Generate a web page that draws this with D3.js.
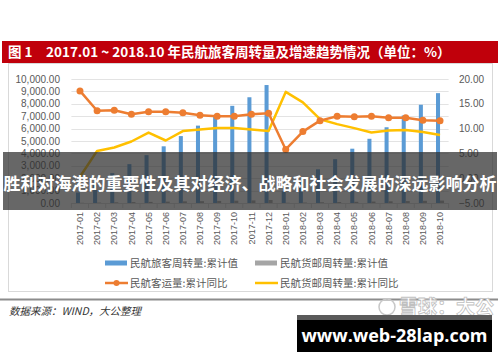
<!DOCTYPE html>
<html>
<head>
<meta charset="utf-8">
<script src="https://cdn.jsdelivr.net/npm/d3@7"></script>
<style>
  body { margin: 0; background: #fff; }
  svg { display: block; font-family: "Liberation Sans", "Noto Sans CJK SC", sans-serif; }
  .axis-label { fill: #595959; font-size: 10px; }
  .cat-label { fill: #595959; font-size: 9px; }
  .legend-label { fill: #595959; font-size: 10.5px; font-family: "Noto Sans CJK SC", sans-serif; }
  .banner-text { fill: #fff; font-family: "Noto Sans CJK SC", sans-serif; font-size: 13.5px; font-weight: bold; }
</style>
</head>
<body>
<svg id="chart"></svg>
<script>
// months on the category axis
const months = ['2017-01','2017-02','2017-03','2017-04','2017-05','2017-06','2017-07','2017-08','2017-09','2017-10','2017-11','2017-12',
  '2018-01','2018-02','2018-03','2018-04','2018-05','2018-06','2018-07','2018-08','2018-09','2018-10'];

// 民航旅客周转量:累计值 (left axis)
const passengerTurnover = [851, 1643, 2405, 3134, 3859, 4572, 5397, 6240, 7002, 7836, 8528, 9513,
  945, 1851, 2717, 3532, 4379, 5178, 6108, 7059, 7924, 8858];

// 民航货邮周转量:累计值 (left axis)
const cargoTurnover = [18, 34, 55, 73, 92, 110, 130, 149, 168, 188, 209, 243,
  20, 36, 58, 77, 97, 116, 137, 157, 177, 198];

// 民航客运量:累计同比 (right axis)
const passengerYoY = [17.6, 13.6, 13.7, 12.9, 13.4, 13.4, 13.2, 12.7, 12.5, 12.5, 12.9, 13.1,
  5.8, 9.4, 11.6, 12.5, 12.4, 12.5, 12.2, 12.2, 11.7, 11.6];

// 民航货邮周转量:累计同比 (right axis)
const cargoYoY = [0.3, 5.5, 6.2, 7.4, 9.2, 7.6, 9.5, 9.8, 10.1, 10.1, 9.8, 9.5,
  17.4, 15.3, 11.9, 10.9, 10.1, 9.2, 9.6, 9.7, 9.3, 8.7];

const leftTicks = [0, 1000, 2000, 3000, 4000, 5000, 6000, 7000, 8000, 9000, 10000];
const rightTicks = [-5, 0, 5, 10, 15, 20];

const legendItems = [
  {name: '民航旅客周转量:累计值', type: 'bar', color: '#5b9bd5'},
  {name: '民航货邮周转量:累计值', type: 'bar', color: '#a5a5a5'},
  {name: '民航客运量:累计同比', type: 'marker', color: '#ed7d31'},
  {name: '民航货邮周转量:累计同比', type: 'line', color: '#ffc000'}
];

class ComboChart {
  constructor(_config) {
    this.config = {
      parentElement: _config.parentElement,
      containerWidth: 500,
      containerHeight: 362,
      plot: {left: 71.4, right: 448.6, top: 79, bottom: 203}
    };
    this.initVis();
  }

  initVis() {
    let vis = this;
    const p = vis.config.plot;

    vis.svg = d3.select(vis.config.parentElement)
        .attr('width', vis.config.containerWidth)
        .attr('height', vis.config.containerHeight);

    // Title banner
    vis.svg.append('rect')
        .attr('x', 2).attr('y', 41).attr('width', 496).attr('height', 22)
        .attr('fill', '#c0000b');
    vis.svg.append('text')
        .attr('class', 'banner-text')
        .attr('x', 8).attr('y', 52).attr('dy', '0.35em')
        .text('图 1');
    vis.svg.append('text')
        .attr('class', 'banner-text')
        .attr('x', 46).attr('y', 52).attr('dy', '0.35em')
        .text('2017.01 ~ 2018.10 年民航旅客周转量及增速趋势情况（单位：%）');

    // Chart frame
    vis.svg.append('rect')
        .attr('x', 8.5).attr('y', 63.5).attr('width', 484).attr('height', 228)
        .attr('fill', 'none').attr('stroke', '#d9d9d9');

    vis.x = d3.scaleBand()
        .domain(months)
        .range([p.left, p.right])
        .paddingInner(0.53)
        .paddingOuter(0.265);

    vis.xSeries = d3.scaleBand()
        .domain(['passenger', 'cargo'])
        .range([0, vis.x.bandwidth()]);

    vis.yLeft = d3.scaleLinear().domain([0, 10000]).range([p.bottom, p.top]);
    vis.yRight = d3.scaleLinear().domain([-5, 20]).range([p.bottom, p.top]);

    vis.chart = vis.svg.append('g');

    vis.renderVis();
  }

  renderVis() {
    let vis = this;
    const p = vis.config.plot;
    const fmt = d3.format(',.2f');

    // Gridlines
    vis.chart.selectAll('.grid')
        .data(leftTicks.filter(d => d > 0))
      .join('line')
        .attr('class', 'grid')
        .attr('x1', p.left).attr('x2', p.right)
        .attr('y1', d => Math.round(vis.yLeft(d)) + 0.5)
        .attr('y2', d => Math.round(vis.yLeft(d)) + 0.5)
        .attr('stroke', '#e3e3e3');

    // Left axis labels
    vis.chart.selectAll('.left-label')
        .data(leftTicks)
      .join('text')
        .attr('class', 'axis-label')
        .attr('text-anchor', 'end')
        .attr('x', 60)
        .attr('y', d => vis.yLeft(d))
        .attr('dy', '0.35em')
        .text(d => fmt(d));

    // Right axis labels
    vis.chart.selectAll('.right-label')
        .data(rightTicks)
      .join('text')
        .attr('class', 'axis-label')
        .attr('x', 459)
        .attr('y', d => vis.yRight(d))
        .attr('dy', '0.35em')
        .text(d => fmt(d));

    // Bars
    const barData = months.map((m, i) => [
      {month: m, key: 'passenger', value: passengerTurnover[i], color: '#5b9bd5'},
      {month: m, key: 'cargo', value: cargoTurnover[i], color: '#a5a5a5'}
    ]).flat();

    vis.chart.selectAll('.bar')
        .data(barData)
      .join('rect')
        .attr('class', 'bar')
        .attr('x', d => vis.x(d.month) + vis.xSeries(d.key))
        .attr('width', vis.xSeries.bandwidth())
        .attr('y', d => vis.yLeft(d.value))
        .attr('height', d => p.bottom - vis.yLeft(d.value))
        .attr('fill', d => d.color);

    // Category axis line and ticks
    const step = vis.x.step();
    vis.chart.append('line')
        .attr('x1', p.left).attr('x2', p.right)
        .attr('y1', p.bottom + 0.5).attr('y2', p.bottom + 0.5)
        .attr('stroke', '#d9d9d9');

    vis.chart.selectAll('.xtick')
        .data(d3.range(months.length + 1))
      .join('line')
        .attr('class', 'xtick')
        .attr('x1', i => p.left + i * step).attr('x2', i => p.left + i * step)
        .attr('y1', p.bottom).attr('y2', p.bottom + 5)
        .attr('stroke', '#d9d9d9');

    vis.chart.selectAll('.cat-label')
        .data(months)
      .join('text')
        .attr('class', 'cat-label')
        .attr('text-anchor', 'end')
        .attr('transform', d => `translate(${vis.x(d) + vis.x.bandwidth() / 2},212) rotate(-90)`)
        .attr('dy', '0.35em')
        .text(d => d);

    // Lines
    const cx = d => vis.x(d) + vis.x.bandwidth() / 2;

    const yoyLine = d3.line()
        .x((d, i) => cx(months[i]))
        .y(d => vis.yRight(d));

    vis.chart.append('path')
        .datum(cargoYoY)
        .attr('d', yoyLine)
        .attr('fill', 'none')
        .attr('stroke', '#ffc000')
        .attr('stroke-width', 2.5)
        .attr('stroke-linejoin', 'round');

    vis.chart.append('path')
        .datum(passengerYoY)
        .attr('d', yoyLine)
        .attr('fill', 'none')
        .attr('stroke', '#ed7d31')
        .attr('stroke-width', 2.5)
        .attr('stroke-linejoin', 'round');

    vis.chart.selectAll('.marker')
        .data(passengerYoY)
      .join('circle')
        .attr('class', 'marker')
        .attr('cx', (d, i) => cx(months[i]))
        .attr('cy', d => vis.yRight(d))
        .attr('r', 3.5)
        .attr('fill', '#ed7d31');

    // Legend
    const legend = vis.svg.append('g').attr('class', 'legend');
    const legendPos = [[105, 263], [255, 263], [105, 283], [255, 283]];
    const item = legend.selectAll('.legend-item')
        .data(legendItems)
      .join('g')
        .attr('class', 'legend-item')
        .attr('transform', (d, i) => `translate(${legendPos[i][0]},${legendPos[i][1]})`);

    item.filter(d => d.type === 'bar').append('rect')
        .attr('x', 0).attr('y', -2.5).attr('width', 22).attr('height', 5)
        .attr('fill', d => d.color);
    item.filter(d => d.type !== 'bar').append('line')
        .attr('x1', 0).attr('x2', 23).attr('y1', 0).attr('y2', 0)
        .attr('stroke', d => d.color).attr('stroke-width', 2.5);
    item.filter(d => d.type === 'marker').append('circle')
        .attr('cx', 11.5).attr('cy', 0).attr('r', 3)
        .attr('fill', d => d.color);
    item.append('text')
        .attr('class', 'legend-label')
        .attr('x', 25)
        .attr('dy', '0.35em')
        .text(d => d.name);

    // Rule and source
    vis.svg.append('rect')
        .attr('x', 0).attr('y', 298.5).attr('width', 498).attr('height', 2)
        .attr('fill', '#8c8c8c');
    vis.svg.append('text')
        .attr('x', 9).attr('y', 311).attr('dy', '0.35em')
        .attr('fill', '#333')
        .style('font-family', '"Noto Sans CJK SC", sans-serif')
        .style('font-size', '10.5px').style('font-style', 'italic')
        .text('数据来源：WIND，大公整理');

    // Watermark
    vis.svg.append('circle')
        .attr('cx', 387).attr('cy', 307).attr('r', 8)
        .attr('fill', 'none').attr('stroke', '#c8c8c8').attr('stroke-width', 1.5);
    vis.svg.append('text')
        .attr('x', 399).attr('y', 307).attr('dy', '0.35em')
        .attr('fill', '#fff').attr('stroke', '#c0c0c0').attr('stroke-width', 0.8)
        .style('font-family', '"Noto Sans CJK SC", sans-serif')
        .style('font-size', '19px').style('font-weight', 'bold')
        .text('雪球：大公');

    // Overlay band with headline
    vis.svg.append('rect')
        .attr('x', 3).attr('y', 152).attr('width', 494).attr('height', 58)
        .attr('fill', 'rgba(45,45,45,0.72)');
    vis.svg.append('text')
        .attr('x', 250).attr('y', 184).attr('dy', '0.35em')
        .attr('text-anchor', 'middle')
        .attr('fill', '#fff')
        .style('font-family', '"Noto Sans CJK SC", sans-serif')
        .style('font-size', '17px').style('font-weight', 'bold')
        .text('胜利对海港的重要性及其对经济、战略和社会发展的深远影响分析');

    // Site badge
    vis.svg.append('rect')
        .attr('x', 297).attr('y', 315).attr('width', 195).attr('height', 37)
        .attr('fill', '#000');
    vis.svg.append('rect')
        .attr('x', 297).attr('y', 315).attr('width', 195).attr('height', 5)
        .attr('fill', '#5a5a5a');
    vis.svg.append('text')
        .attr('x', 394.5).attr('y', 336).attr('dy', '0.35em')
        .attr('text-anchor', 'middle')
        .attr('fill', '#fff')
        .style('font-family', '"Open Sans", sans-serif')
        .style('font-size', '18px').style('font-weight', 'bold')
        .text('www.web-28lap.com');
  }
}

new ComboChart({parentElement: '#chart'});
</script>
</body>
</html>
